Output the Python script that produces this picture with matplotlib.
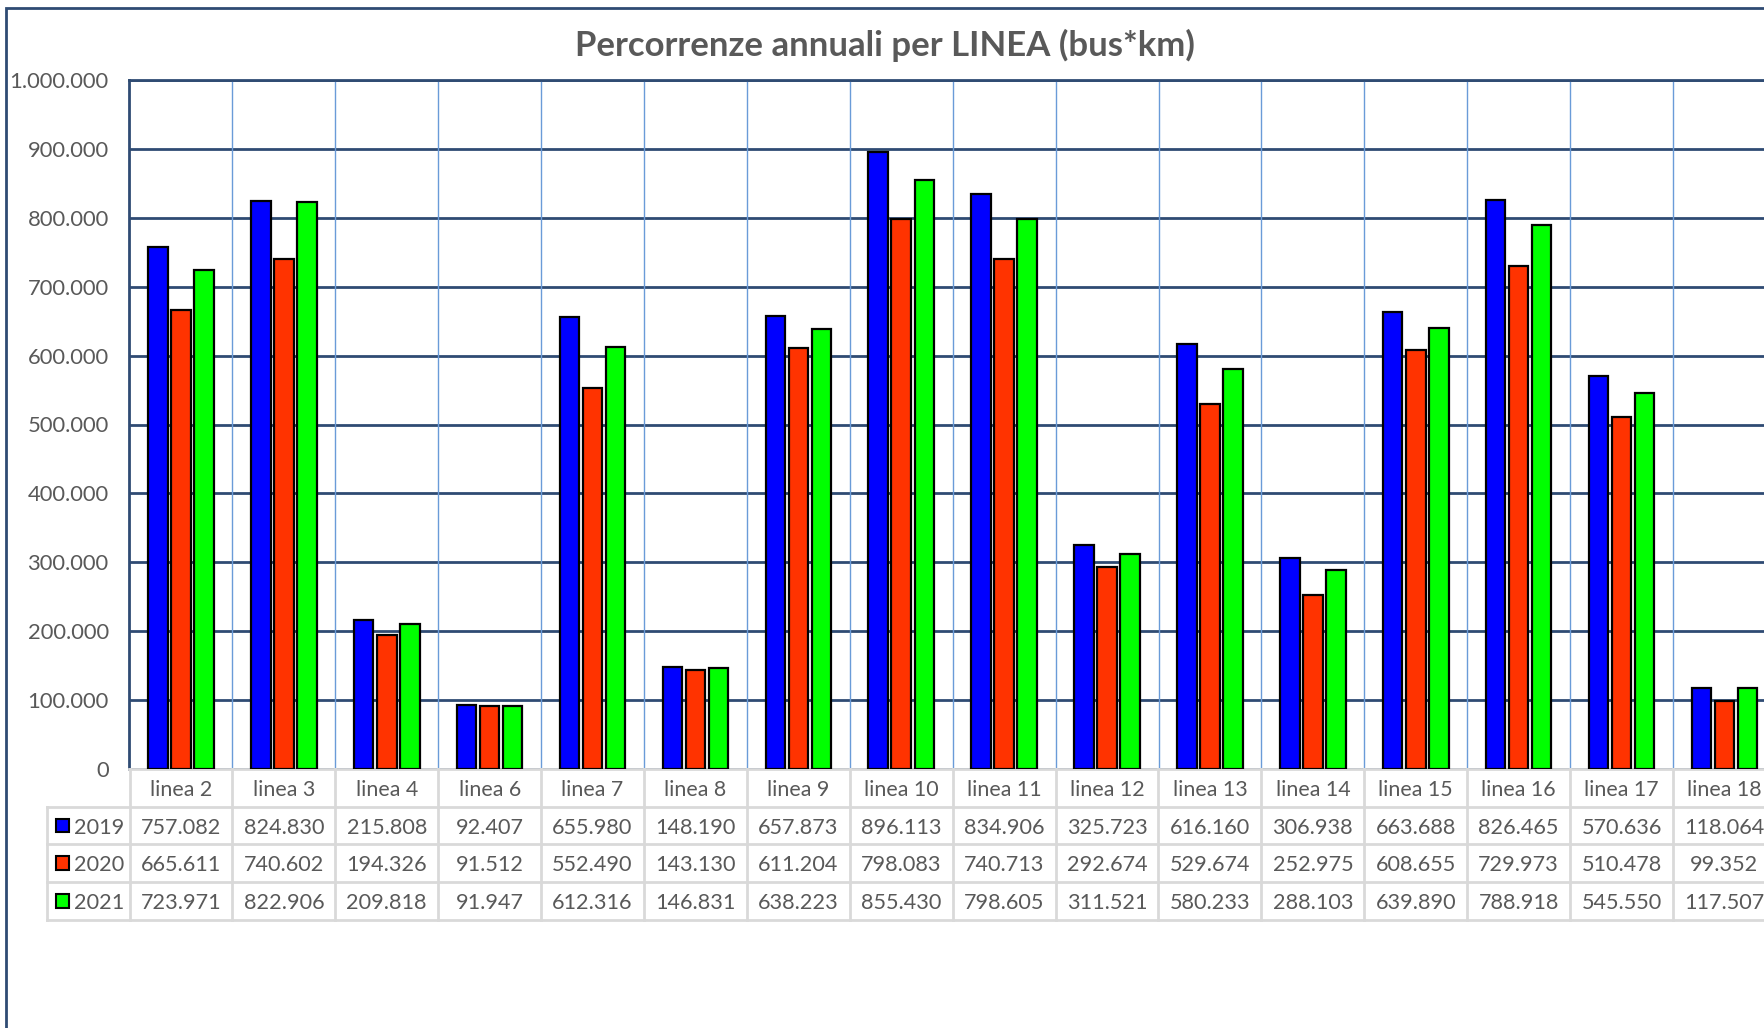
import numpy as np
import matplotlib.pyplot as plt
from matplotlib.patches import Rectangle

plt.rcParams['font.family'] = ['Lato', 'DejaVu Sans']

# Dati: percorrenze annuali (bus*km) per linea
linee = ['linea 2', 'linea 3', 'linea 4', 'linea 6', 'linea 7', 'linea 8',
         'linea 9', 'linea 10', 'linea 11', 'linea 12', 'linea 13', 'linea 14',
         'linea 15', 'linea 16', 'linea 17', 'linea 18']
anni = ['2019', '2020', '2021']
km_2019 = [757082, 824830, 215808, 92407, 655980, 148190, 657873, 896113,
           834906, 325723, 616160, 306938, 663688, 826465, 570636, 118064]
km_2020 = [665611, 740602, 194326, 91512, 552490, 143130, 611204, 798083,
           740713, 292674, 529674, 252975, 608655, 729973, 510478, 99352]
km_2021 = [723971, 822906, 209818, 91947, 612316, 146831, 638223, 855430,
           798605, 311521, 580233, 288103, 639890, 788918, 545550, 117507]
colori = ['#0000FF', '#FF3300', '#00FF00']

GRIGIO = '#595959'
NAVY = '#2F4B73'
AZZURRO = '#6A9BD8'
BORDO = '#D9D9D9'


def fmt(v):
    return f"{int(v):,}".replace(',', '.')


W, H = 1765, 1028
fig = plt.figure(figsize=(W / 100, H / 100), dpi=100)

n = len(linee)
cat_w = 102.9
ax_l, ax_t, ax_b = 129.5, 80.0, 769.0
row_h = 37.7

ax = fig.add_axes([ax_l / W, 1 - ax_b / H, n * cat_w / W, (ax_b - ax_t) / H])

x = np.arange(n)
serie = [km_2019, km_2020, km_2021]
for k, (vals, col) in enumerate(zip(serie, colori)):
    ax.bar(x + (k - 1) * 0.224, vals, width=0.19, color=col,
           edgecolor='black', linewidth=1.6, zorder=3)

ax.set_xlim(-0.5, n - 0.5)
ax.set_ylim(0, 1000000)
ax.set_yticks(np.arange(0, 1000001, 100000))
ax.set_yticklabels([fmt(v) for v in np.arange(0, 1000001, 100000)])
ax.set_xticks([])
ax.tick_params(axis='y', length=0, pad=15, labelsize=15.8, labelcolor=GRIGIO)
ax.yaxis.grid(True, color=NAVY, linewidth=2, zorder=1)
ax.vlines(np.arange(n) + 0.5, 0, 1000000, color=AZZURRO, linewidth=1, zorder=1)
ax.set_axisbelow(True)
ax.spines['right'].set_visible(False)
ax.spines['top'].set_color(NAVY)
ax.spines['top'].set_linewidth(2)
ax.spines['left'].set_color(NAVY)
ax.spines['left'].set_linewidth(2)
ax.spines['bottom'].set_color(BORDO)
ax.spines['bottom'].set_linewidth(2)

# Tabella dati sotto il grafico
leg_w = 0.8
tab_l = ax_l - leg_w * cat_w
tab_b = ax_b + 4 * row_h
tax = fig.add_axes([tab_l / W, 1 - tab_b / H, (n + leg_w) * cat_w / W, 4 * row_h / H])
tax.set_xlim(-0.5 - leg_w, n - 0.5)
tax.set_ylim(4, 0)
tax.axis('off')

for r in range(1, 5):
    tax.plot([-0.5 - leg_w, n - 0.5], [r, r], color=BORDO, lw=2, clip_on=False)
for i in range(n + 1):
    tax.plot([i - 0.5, i - 0.5], [0, 4], color=BORDO, lw=2, clip_on=False)
tax.plot([-0.5 - leg_w] * 2, [1, 4], color=BORDO, lw=2, clip_on=False)

for i, nome in enumerate(linee):
    tax.text(i, 0.5, nome, ha='center', va='center_baseline', fontsize=15.4,
             color=GRIGIO, clip_on=False)

for r, (anno, vals, col) in enumerate(zip(anni, serie, colori), start=1):
    tax.add_patch(Rectangle((-0.5 - leg_w + 0.083, r + 0.5 - 0.18), 0.13, 0.36,
                            facecolor=col, edgecolor='black', linewidth=1.5))
    tax.text(-0.5 - leg_w + 0.262, r + 0.5, anno, ha='left', va='center_baseline',
             fontsize=15.6, color=GRIGIO)
    for i, v in enumerate(vals):
        tax.text(i, r + 0.5, fmt(v), ha='center', va='center_baseline',
                 fontsize=15.6, color=GRIGIO, clip_on=False)

# Cornice dell'area grafico
fig.add_artist(Rectangle((5.6 / W, -0.1), 1.2, 1.1 - 8 / H, transform=fig.transFigure,
                         fill=False, edgecolor=NAVY, linewidth=2))

fig.text(885 / W, 1 - 45 / H, 'Percorrenze annuali per LINEA (bus*km)',
         ha='center', va='center', fontsize=25, fontweight='bold', color=GRIGIO)

fig.savefig('out.png', dpi=100)
